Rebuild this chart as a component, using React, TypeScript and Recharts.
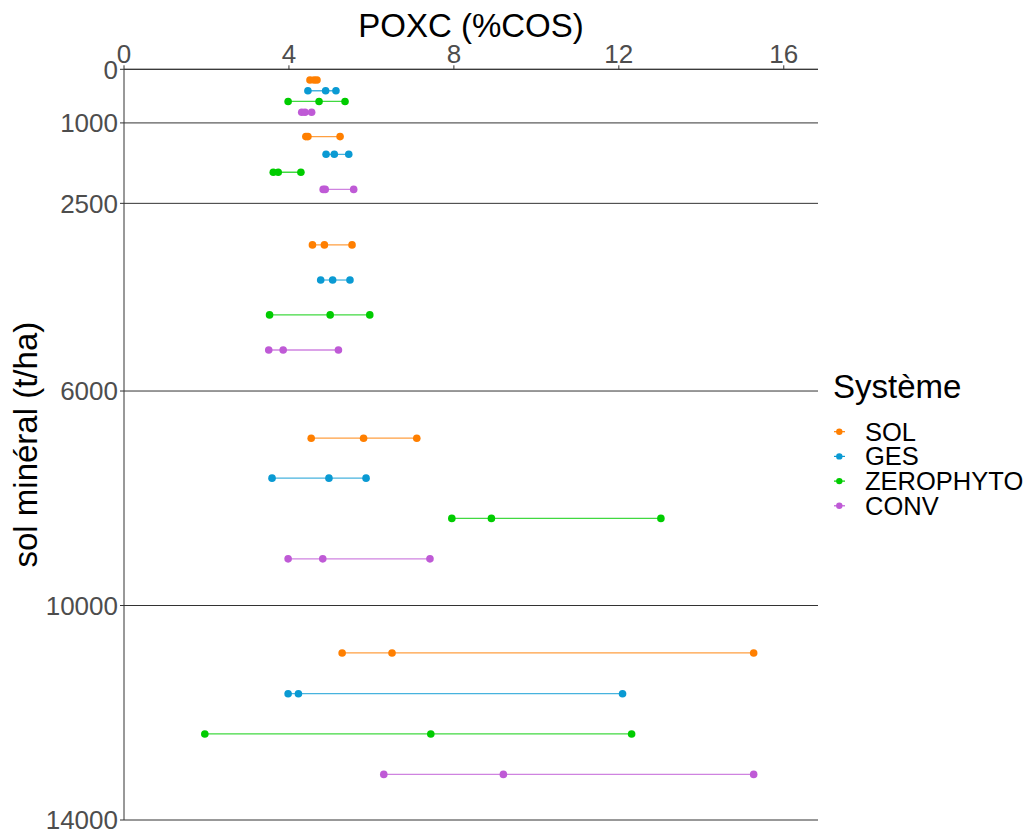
import React from 'react';
import { ScatterChart, Scatter, XAxis, YAxis, CartesianGrid, Legend, Label } from 'recharts';

const systems = ['SOL', 'GES', 'ZEROPHYTO', 'CONV'];
const systemColors = ['#FF7F00', '#0A9AD3', '#00CC00', '#BF5AD6'];
const xTicks = [0, 4, 8, 12, 16];
const yTicks = [0, 1000, 2500, 6000, 10000, 14000];

// depth (t/ha) at which each system's row is drawn, one per soil layer
const solDepth = [200, 1255, 3275, 6880, 10885];
const gesDepth = [400, 1585, 3930, 7625, 11645];
const zerophytoDepth = [600, 1920, 4580, 8375, 12395];
const convDepth = [800, 2240, 5235, 9130, 13150];

// POXC (%COS): min, median, max for each soil layer
const solPoxc = [[4.51, 4.61, 4.68], [4.41, 4.46, 5.24], [4.57, 4.86, 5.53], [4.54, 5.81, 7.10], [5.29, 6.50, 15.27]];
const gesPoxc = [[4.46, 4.89, 5.14], [4.90, 5.10, 5.45], [4.77, 5.06, 5.48], [3.59, 4.97, 5.87], [3.98, 4.23, 12.09]];
const zerophytoPoxc = [[3.98, 4.73, 5.36], [3.62, 3.74, 4.29], [3.53, 5.00, 5.96], [7.95, 8.91, 13.02], [1.96, 7.44, 12.31]];
const convPoxc = [[4.31, 4.39, 4.55], [4.83, 4.88, 5.57], [3.51, 3.86, 5.20], [3.98, 4.82, 7.42], [6.30, 9.20, 15.27]];

const depths = [solDepth, gesDepth, zerophytoDepth, convDepth];
const poxc = [solPoxc, gesPoxc, zerophytoPoxc, convPoxc];

const FONT = '"Liberation Sans", Arial, sans-serif';

const series = systems.flatMap((name, i) =>
  poxc[i].map((vals, j) => ({
    key: `${name}-${j}`,
    color: systemColors[i],
    data: vals.map((x) => ({ x, y: depths[i][j] })),
  }))
);

const makeDot = (color: string) => (props: any) => (
  <circle cx={props.cx} cy={props.cy} r={3.8} fill={color} />
);

const renderLegend = () => (
  <svg width={212} height={170} style={{ display: 'block', overflow: 'visible' }}>
    <text x={13} y={30.3} fontSize={33} fontFamily={FONT} fill="#000">Système</text>
    {systems.map((name, i) => {
      const cy = 63.7 + i * 24.7;
      return (
        <g key={name}>
          <line x1={14} x2={25} y1={cy} y2={cy} stroke={systemColors[i]} strokeWidth={1.2} />
          <circle cx={19.3} cy={cy} r={3.2} fill={systemColors[i]} />
          <text x={45} y={cy + 8.8} fontSize={25.5} fontFamily={FONT} fill="#000">{name}</text>
        </g>
      );
    })}
  </svg>
);

export default function App() {
  return (
    <div style={{ width: 1024, height: 826 }}>
      <ScatterChart width={1024} height={826} margin={{ top: 0, right: 214, bottom: 14, left: 0 }}>
        <CartesianGrid horizontal={true} vertical={false} stroke="#333" strokeWidth={1} />
        <XAxis
          type="number"
          dataKey="x"
          orientation="top"
          domain={[0, 16.83]}
          ticks={xTicks}
          interval={0}
          height={61.3}
          allowDataOverflow
          tickSize={4}
          tickMargin={2}
          stroke="#333"
          tick={{ fontSize: 26, fill: '#4D4D4D', fontFamily: FONT }}
        >
          <Label
            content={(p: any) => {
              const vb = p.viewBox || {};
              return (
                <text x={vb.x + vb.width / 2} y={29.3} textAnchor="middle" fontSize={33} fontFamily={FONT} fill="#000">
                  POXC (%COS)
                </text>
              );
            }}
          />
        </XAxis>
        <YAxis
          type="number"
          dataKey="y"
          reversed
          domain={[0, 14000]}
          ticks={yTicks}
          interval={0}
          width={116}
          allowDataOverflow
          tickSize={4}
          tickMargin={2}
          stroke="#333"
          tick={{ fontSize: 26, fill: '#4D4D4D', fontFamily: FONT }}
        >
          <Label
            content={(p: any) => {
              const vb = p.viewBox || {};
              const cx = 29.3;
              const cy = vb.y + vb.height / 2;
              return (
                <text x={cx} y={cy} transform={`rotate(-90, ${cx}, ${cy})`} textAnchor="middle" fontSize={33} fontFamily={FONT} fill="#000">
                  sol minéral (t/ha)
                </text>
              );
            }}
          />
        </YAxis>
        <Legend
          layout="horizontal"
          verticalAlign="middle"
          align="center"
          content={renderLegend}
          wrapperStyle={{ position: 'absolute', left: 812, top: 360, width: 212, height: 170 }}
        />
        {series.map((s) => (
          <Scatter
            key={s.key}
            name={s.key}
            data={s.data}
            fill={s.color}
            line={{ stroke: s.color, strokeWidth: 1.3, strokeOpacity: 0.75 }}
            lineJointType="linear"
            shape={makeDot(s.color)}
            legendType="none"
            isAnimationActive={false}
          />
        ))}
      </ScatterChart>
    </div>
  );
}
